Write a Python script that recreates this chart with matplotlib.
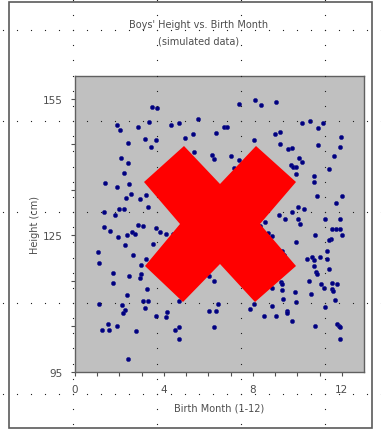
import numpy as np
import matplotlib
matplotlib.use('Agg')
import matplotlib.pyplot as plt
from matplotlib.patches import Polygon, Rectangle
from matplotlib.lines import Line2D

# simulated birth month / height readings (points hidden under the red X are left out)
month = [3.48, 3.70, 1.87, 2.03, 3.33, 2.85, 4.31, 4.67, 5.54, 6.35, 4.96, 5.33, 3.15, 3.63,
         3.43, 2.40, 5.37, 6.17, 6.27, 2.06, 2.37, 2.19, 1.33, 1.87, 2.45, 2.54, 2.28, 3.18,
         2.92, 3.27, 1.98, 2.19, 1.29, 1.79, 1.30, 2.83, 3.08, 3.63, 8.11, 8.37, 7.36, 9.06,
         6.72, 6.82, 10.22, 10.56, 11.15, 10.94, 9.24, 9.01, 11.97, 8.03, 9.23, 9.57, 9.78, 10.94,
         11.93, 7.02, 7.39, 10.08, 10.22, 11.67, 9.70, 9.82, 9.96, 9.96, 11.41, 10.75, 10.73, 10.90,
         11.99, 11.76, 10.04, 10.31, 9.18, 9.44, 9.75, 10.02, 10.11, 11.24, 11.94, 8.54, 8.33, 11.57,
         11.75, 7.17, 1.57, 1.94, 2.32, 2.58, 2.69, 3.81, 4.08, 4.40, 2.24, 3.52, 1.04, 1.09,
         2.61, 2.96, 3.18, 1.72, 1.69, 2.99, 2.91, 2.42, 3.24, 2.32, 1.07, 2.10, 2.24, 2.16,
         3.06, 3.30, 3.13, 3.66, 4.13, 4.08, 4.67, 1.49, 1.21, 1.51, 1.89, 2.76, 4.70, 4.52,
         4.66, 2.40, 6.27, 6.05, 6.42, 6.35, 6.24, 6.01, 8.66, 8.85, 10.78, 11.51, 11.42, 9.93,
         11.34, 9.33, 9.40, 10.45, 10.67, 10.75, 11.02, 11.32, 10.75, 11.42, 10.82, 10.90, 10.52, 11.05,
         11.54, 11.79, 11.20, 11.57, 11.61, 9.26, 9.33, 9.30, 8.88, 10.60, 9.88, 11.69, 9.36, 9.93,
         8.06, 8.84, 7.87, 11.24, 9.53, 9.55, 8.51, 9.03, 9.75, 10.78, 11.79, 11.87, 11.94, 11.94,
         11.99, 11.94]
height = [153.2, 152.9, 149.2, 148.2, 150.0, 148.8, 149.2, 149.7, 150.6, 147.5, 146.3, 147.2, 146.2, 146.0,
          144.3, 145.3, 143.3, 142.7, 141.8, 142.0, 140.9, 138.7, 136.5, 135.7, 136.3, 134.1, 133.3, 133.9,
          132.9, 131.3, 130.9, 130.9, 130.2, 129.5, 126.8, 127.2, 127.0, 126.7, 154.8, 153.7, 153.8, 154.4,
          148.9, 148.7, 149.7, 150.2, 149.7, 148.5, 147.8, 147.2, 146.7, 145.9, 145.1, 144.0, 144.1, 144.8,
          144.3, 142.4, 141.6, 142.1, 141.2, 142.4, 140.4, 140.0, 140.0, 138.5, 139.6, 138.0, 136.7, 133.6,
          133.6, 132.2, 131.3, 130.9, 129.4, 128.5, 130.2, 128.5, 127.6, 128.5, 128.5, 128.0, 127.0, 126.5,
          126.5, 139.9, 126.0, 124.7, 125.1, 125.7, 125.3, 125.8, 125.4, 125.4, 122.8, 123.2, 121.4, 119.0,
          120.6, 118.6, 119.9, 116.7, 114.5, 116.5, 115.7, 116.0, 113.3, 111.9, 109.9, 109.7, 108.6, 107.9,
          110.5, 110.5, 109.0, 107.4, 108.1, 107.0, 110.5, 105.5, 104.2, 104.2, 105.0, 104.0, 104.8, 104.2,
          102.2, 97.8, 114.9, 108.4, 110.0, 108.4, 104.9, 116.1, 125.6, 124.8, 125.0, 124.3, 123.9, 123.6,
          121.6, 121.6, 120.6, 119.9, 120.2, 119.7, 120.2, 119.9, 118.3, 117.7, 117.0, 116.5, 114.9, 114.4,
          114.6, 114.4, 113.5, 113.3, 112.7, 114.8, 114.4, 113.0, 113.4, 112.2, 112.5, 110.8, 111.1, 110.3,
          110.0, 109.4, 108.8, 109.2, 108.3, 107.9, 107.2, 107.4, 106.2, 105.1, 105.5, 105.1, 104.8, 102.2,
          125.1, 126.3]

x_ticks = [0, 4, 8, 12]
y_ticks = [95, 125, 155]

W, H = 381, 431
fig = plt.figure(figsize=(W / 100, H / 100), dpi=100)
fig.patch.set_facecolor('white')

txt = '#4d4d4d'
ax = fig.add_axes([75 / W, 1 - 373 / H, 289 / W, 296 / H])
ax.set_facecolor('#c0c0c0')
ax.plot(month, height, 'o', color='#000080', ms=3.0, mec='#1a1a8c', mew=0.4)
ax.set_xlim(0, 13)
ax.set_ylim(95, 160)
ax.set_xticks(x_ticks)
ax.set_xticks(range(0, 13), minor=True)
ax.set_yticks(y_ticks)
ax.set_yticks(range(95, 160, 10), minor=True)
ax.tick_params(which='both', length=3, width=0.8, color='#505050', labelsize=7.5, labelcolor=txt, pad=6)
for s in ax.spines.values():
    s.set_color('#606060')
    s.set_linewidth(1.0)
ax.set_xlabel('Birth Month (1-12)', fontsize=7, color=txt, labelpad=5.5)
ax.set_ylabel('Height (cm)', fontsize=7, color=txt, labelpad=2)

fig.text(199 / W, 1 - 25 / H, "Boys' Height vs. Birth Month", ha='center', va='center', fontsize=7, color=txt)
fig.text(199 / W, 1 - 41 / H, "(simulated data)", ha='center', va='center', fontsize=7, color=txt)

# outer frame
fig.add_artist(Rectangle((9 / W, 1 - 429 / H), 363 / W, 426 / H, transform=fig.transFigure,
                         fill=False, ec='#5a5a5a', lw=1.2, zorder=1))

# designer grid of dots
cols = [73 - 84, 73, 157, 241, 325, 409]
rows = [31, 122, 213, 304, 395]
gx, gy = [], []
for r in rows:
    for x in np.arange(73 - 84, W + 1, 14):
        gx.append(x); gy.append(r)
for c in cols:
    for y in np.arange(31 - 91, H + 1, 91 / 6):
        gx.append(c); gy.append(y)
fig.add_artist(Line2D(np.array(gx) / W, 1 - np.array(gy) / H, transform=fig.transFigure,
                      ls='none', marker='s', ms=0.8, mew=0, color='#202020', zorder=5))

# red X over the chart
xv = [(184, 147), (220, 185), (256, 147), (296, 183), (260, 225), (296, 267),
      (255, 303), (220, 265), (183, 303), (145, 267), (180, 225), (144, 183)]
fig.add_artist(Polygon([(a / W, 1 - b / H) for a, b in xv], closed=True, transform=fig.transFigure,
                       fc='#ff0000', ec='none', zorder=10))

fig.savefig('out.png', dpi=100)
